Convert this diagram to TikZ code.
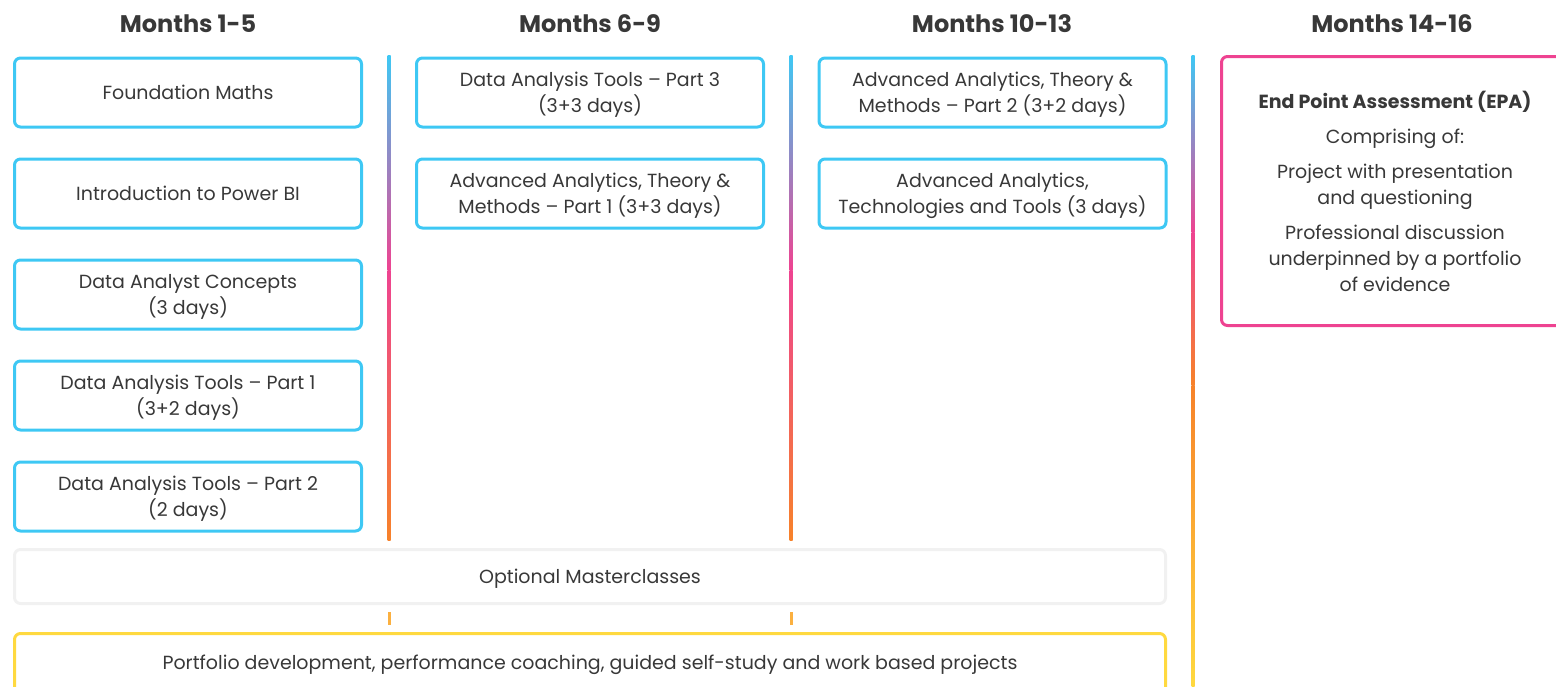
\documentclass[tikz,border=0pt]{standalone}
\usepackage{fontspec}
\setmainfont{Poppins}
\usetikzlibrary{positioning}

\definecolor{modblue}{HTML}{3EC8F4}
\definecolor{epapink}{HTML}{EE4391}
\definecolor{lineorange}{HTML}{F7822A}
\definecolor{dashorange}{HTML}{FBB040}
\definecolor{portyellow}{HTML}{FFD93F}
\definecolor{classgrey}{HTML}{F1F1F1}
\definecolor{textgrey}{HTML}{383838}

\begin{document}
\begin{tikzpicture}[x=1pt, y=-1pt,
    every node/.style={font=\fontsize{19}{26}\selectfont, text=textgrey},
    module/.style={draw=modblue, line width=3pt, rounded corners=6pt, text depth=0pt,
        minimum width=347pt, minimum height=69pt, align=center, inner sep=2pt},
    wide/.style={line width=3pt, rounded corners=6pt,
        minimum width=1151pt, align=center},
    heading/.style={font=\fontsize{24}{28}\selectfont\bfseries}]
			\clip (0,0) rectangle (1556,686);

			% Headings
			\node[heading] (h1) at (188,24) {Months 1-5};
			\node[heading] (h2) at (590,24) {Months 6-9};
			\node[heading] (h3) at (992,24) {Months 10-13};
			\node[heading] (h4) at (1392,24) {Months 14-16};

			% Dividers
			\shade[top color=modblue, bottom color=epapink] (387.5,55) rectangle (390.5,270);
			\shade[top color=epapink, bottom color=lineorange] (387.5,270) rectangle (390.5,540);
			\shade[top color=modblue, bottom color=epapink] (789.5,55) rectangle (792.5,270);
			\shade[top color=epapink, bottom color=lineorange] (789.5,270) rectangle (792.5,540);
			\shade[top color=modblue, bottom color=epapink] (1191.5,55) rectangle (1194.5,232);
			\shade[top color=epapink, bottom color=lineorange] (1191.5,232) rectangle (1194.5,385);
			\shade[top color=lineorange, bottom color=portyellow] (1191.5,385) rectangle (1194.5,686);
			\fill[dashorange] (387.5,612) rectangle (390.5,625);
			\fill[dashorange] (789.5,612) rectangle (792.5,625);

			% Months 1-5
			\node[module] (m1) at (188,92.5) {Foundation Maths};
			\node[module, below=29pt of m1] (m2) {Introduction to Power BI};
			\node[module, below=29pt of m2] (m3) {Data Analyst Concepts\\(3 days)};
			\node[module, below=29pt of m3] (m4) {Data Analysis Tools -- Part 1\\(3+2 days)};
			\node[module, below=29pt of m4] (m5) {Data Analysis Tools -- Part 2\\(2 days)};

			% Months 6-9
			\node[module] (m6) at (590,92.5) {Data Analysis Tools -- Part 3\\(3+3 days)};
			\node[module, below=29pt of m6] (m7) {Advanced Analytics, Theory \&\\Methods -- Part 1 (3+3 days)};

			% Months 10-13
			\node[module] (m8) at (992.5,92.5) {Advanced Analytics, Theory \&\\Methods -- Part 2 (3+2 days)};
			\node[module, below=29pt of m8] (m9) {Advanced Analytics,\\Technologies and Tools (3 days)};

			% Months 14-16
			\node[draw=epapink, line width=3pt, rounded corners=6pt, minimum width=347pt,
			      minimum height=269pt, align=center] (epa) at (1395,191)
			      {\textbf{End Point Assessment (EPA)}\\[9pt]Comprising of:\\[9pt]Project with presentation\\and questioning\\[9pt]Professional discussion\\underpinned by a portfolio\\of evidence};

			% Bands across
			\node[wide, draw=classgrey, text depth=0pt, minimum height=54pt] (mc) at (590,576.5) {Optional Masterclasses};
			\node[wide, draw=portyellow, minimum height=62pt] (pf) at (590,664.5)
			      {Portfolio development, performance coaching, guided self-study and work based projects};
		\end{tikzpicture}
\end{document}
